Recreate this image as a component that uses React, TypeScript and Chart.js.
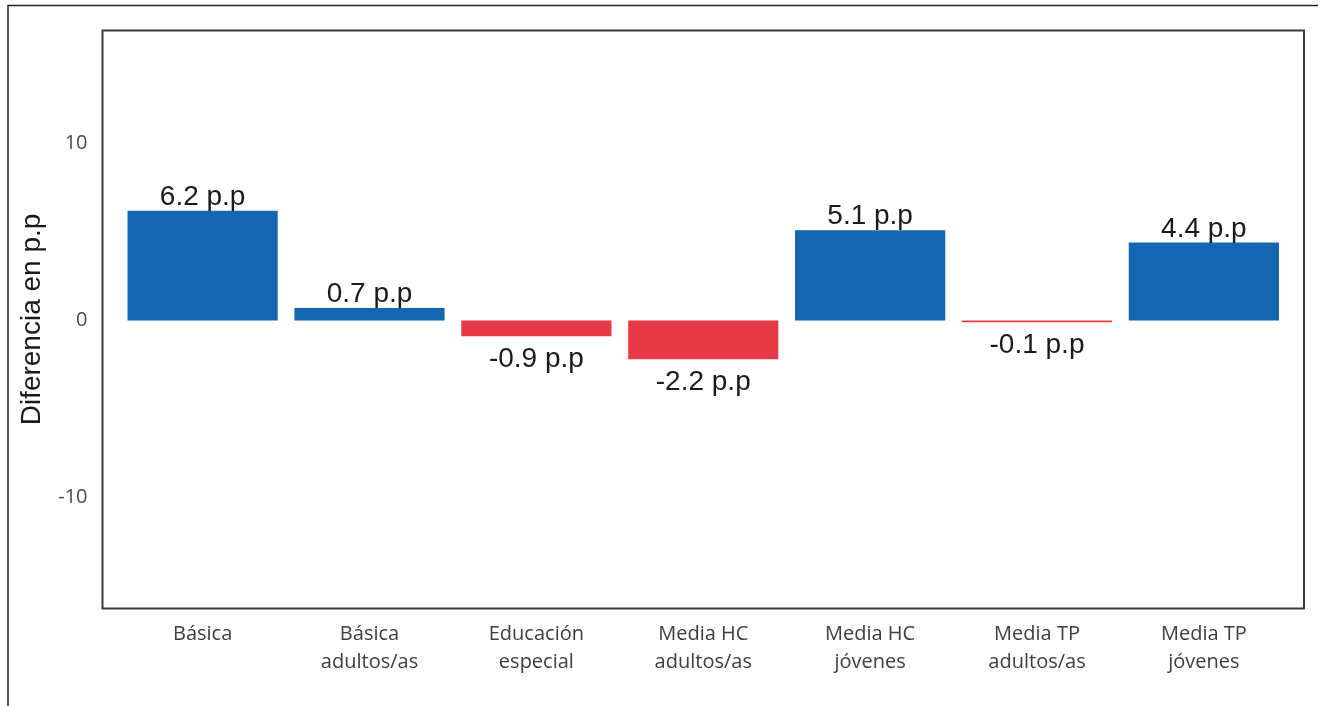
import React, { useEffect, useRef } from 'react';
import { Chart, registerables } from 'chart.js';

Chart.register(...registerables);

const categories: string[][] = [
  ['Básica'],
  ['Básica', 'adultos/as'],
  ['Educación', 'especial'],
  ['Media HC', 'adultos/as'],
  ['Media HC', 'jóvenes'],
  ['Media TP', 'adultos/as'],
  ['Media TP', 'jóvenes'],
];
const values: number[] = [6.2, 0.7, -0.9, -2.2, 5.1, -0.1, 4.4];
const yTicks: number[] = [-10, 0, 10];
const yTitle = 'Diferencia en p.p';
const unitSuffix = ' p.p';

const BLUE = '#1466b0';
const RED = '#e63946';

const framePlugin = {
  id: 'framePlugin',
  beforeDraw(chart: any) {
    const ctx = chart.ctx;
    ctx.save();
    ctx.strokeStyle = '#222';
    ctx.lineWidth = 1.5;
    ctx.beginPath();
    ctx.moveTo(8, 706);
    ctx.lineTo(8, 5.5);
    ctx.lineTo(1318, 5.5);
    ctx.stroke();
    ctx.restore();
  },
  afterDraw(chart: any) {
    const { ctx, chartArea } = chart;
    ctx.save();
    ctx.strokeStyle = '#3a3a3a';
    ctx.lineWidth = 2;
    ctx.strokeRect(chartArea.left, chartArea.top, chartArea.right - chartArea.left, chartArea.bottom - chartArea.top);
    ctx.restore();
  },
};

const labelPlugin = {
  id: 'labelPlugin',
  afterDatasetsDraw(chart: any) {
    const ctx = chart.ctx;
    const meta = chart.getDatasetMeta(0);
    ctx.save();
    ctx.font = '28px "Liberation Sans", Arial, sans-serif';
    ctx.fillStyle = '#1a1a1a';
    ctx.textAlign = 'center';
    ctx.textBaseline = 'alphabetic';
    meta.data.forEach((bar: any, i: number) => {
      const v = values[i];
      const txt = v.toFixed(1) + unitSuffix;
      if (v >= 0) {
        ctx.fillText(txt, bar.x, bar.y - 6);
      } else {
        ctx.fillText(txt, bar.x, bar.y + 30.5);
      }
    });
    ctx.restore();
  },
};

export default function App() {
  const ref = useRef<HTMLCanvasElement | null>(null);

  useEffect(() => {
    if (!ref.current) return;
    const chart = new Chart(ref.current, {
      type: 'bar',
      data: {
        datasets: [
          {
            data: values.map((v, i) => ({ x: i + 1, y: v })),
            backgroundColor: values.map((v) => (v >= 0 ? BLUE : RED)),
            borderWidth: 0,
            barPercentage: 0.9,
            categoryPercentage: 1.0,
          },
        ],
      },
      options: {
        responsive: false,
        animation: false,
        layout: { padding: { top: 30.5, right: 17, left: 0, bottom: 0 } },
        plugins: {
          legend: { display: false },
          tooltip: { enabled: false },
        },
        scales: {
          x: {
            type: 'linear',
            min: 0.4,
            max: 7.6,
            offset: false,
            grid: { display: false, offset: false },
            border: { display: false },
            afterBuildTicks: (scale: any) => {
              scale.ticks = categories.map((_, i) => ({ value: i + 1 }));
            },
            afterFit: (scale: any) => {
              scale.height = 97.5;
            },
            ticks: {
              autoSkip: false,
              maxRotation: 0,
              minRotation: 0,
              padding: 3.5,
              color: '#3d3d3d',
              font: { family: '"Open Sans", sans-serif', size: 20, lineHeight: '28px' },
              callback: (value: any) => categories[Math.round(value) - 1] || '',
            },
          },
          y: {
            min: -16.3,
            max: 16.4,
            grid: { display: false },
            border: { display: false },
            afterBuildTicks: (scale: any) => {
              scale.ticks = yTicks.map((v) => ({ value: v }));
            },
            afterFit: (scale: any) => {
              scale.width = 102.5;
            },
            ticks: {
              padding: 7,
              color: '#4a4a4a',
              font: { family: '"Open Sans", sans-serif', size: 20 },
              callback: (value: any) => String(value),
            },
            title: {
              display: true,
              text: yTitle,
              color: '#1a1a1a',
              padding: { top: 15, bottom: 0 },
              font: { family: '"Liberation Sans", Arial, sans-serif', size: 28, lineHeight: 1.2 },
            },
          },
        },
      },
      plugins: [framePlugin, labelPlugin],
    } as any);
    return () => chart.destroy();
  }, []);

  return (
    <div style={{ position: 'absolute', left: 0, top: 0, width: 1321, height: 706 }}>
      <canvas ref={ref} width={1321} height={706} style={{ display: 'block' }} />
    </div>
  );
}
